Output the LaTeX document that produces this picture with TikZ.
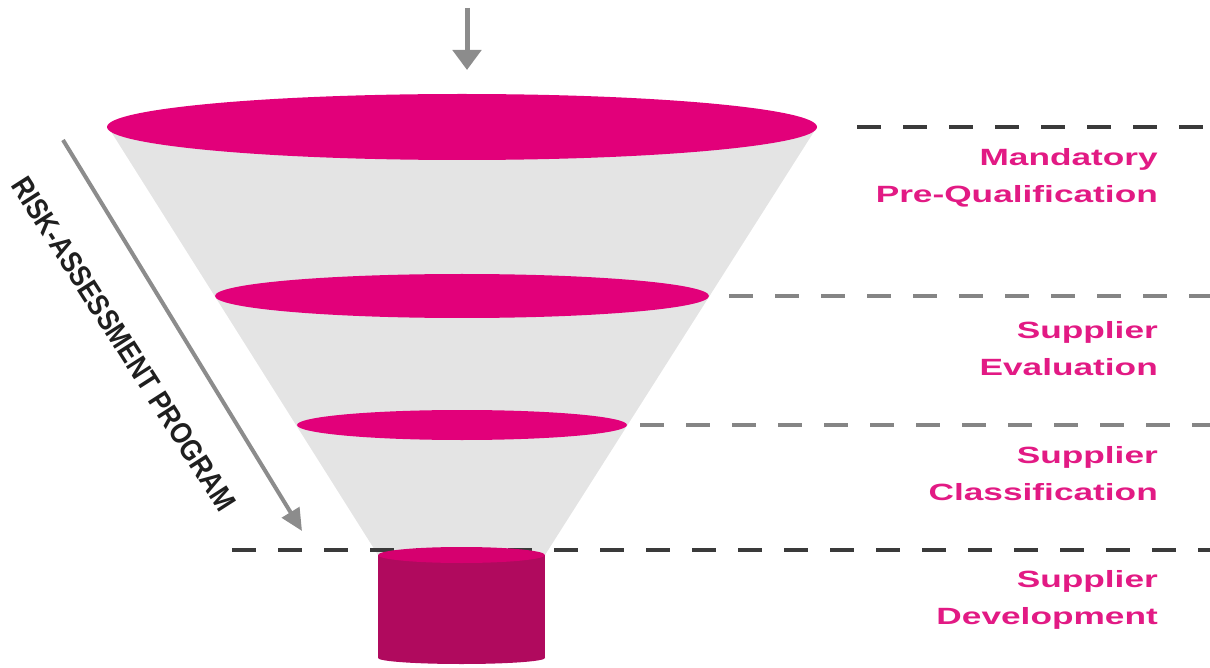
\documentclass[tikz,border=0pt]{standalone}
\usepackage{fontspec}
\setmainfont{Liberation Sans}
\newfontfamily\stagefont[FakeStretch=1.5]{Liberation Sans}
\newfontfamily\riskfont[FakeStretch=0.86]{Liberation Sans}
\usetikzlibrary{shapes.geometric,arrows.meta,positioning}
\definecolor{tmagenta}{HTML}{E2007A}
\definecolor{stagepink}{HTML}{E21A84}
\definecolor{cylbody}{HTML}{B00A5E}
\definecolor{cyltop}{HTML}{D6006F}
\definecolor{funnelgray}{HTML}{E4E4E4}
\definecolor{arrowgray}{HTML}{8C8C8C}
\definecolor{dashdark}{HTML}{3A3A3A}
\definecolor{dashlight}{HTML}{858585}

\begin{document}
\begin{tikzpicture}[
  x=1pt, y=-1pt,
  disc/.style={ellipse, fill=tmagenta, inner sep=0pt, outer sep=0pt},
  stage/.style={font=\stagefont\bfseries\fontsize{23.5}{37}\selectfont,
                text=stagepink, align=right, anchor=east, inner sep=0pt},
  level/.style={dash pattern=on 24pt off 22pt, line width=4pt},
  >={Triangle[width=28pt,length=20pt]}
]
\useasboundingbox (0,0) rectangle (1210,668);
\coordinate (edge) at (1210,0);

%% --- funnel ---
\fill[funnelgray] (110,130) -- (815,130) -- (545,555) -- (378,555) -- cycle;
\node[disc, minimum width=710pt, minimum height=66pt] (top) at (462,127) {};
\node[disc, minimum width=494pt, minimum height=44pt] (mid) at (462,296) {};
\node[disc, minimum width=330pt, minimum height=30pt] (low) at (462,425) {};

%% --- levels ---
\coordinate (l4) at (232,550);
\draw[level, dashdark] ([xshift=40pt]top.east) -- (top.east -| edge);
\draw[level, dashlight] ([xshift=20pt]mid.east) -- (mid.east -| edge);
\draw[level, dashlight] ([xshift=13pt]low.east) -- (low.east -| edge);
\draw[level, dashdark] (l4) -- (l4 -| edge);

%% --- cylinder ---
\fill[cylbody] (378,555) rectangle (545,658);
\fill[cylbody] (461.5,658) ellipse [x radius=83.5, y radius=6];
\node[ellipse, fill=cyltop, inner sep=0pt, minimum width=167pt,
      minimum height=16pt] (cyl) at (461.5,555) {};

%% --- stage labels ---
\node[stage] (pq) at (1158,178) {Mandatory\\Pre-Qualification};
\node[stage] (ev) at (1158,349) {Supplier\\Evaluation};
\node[stage] (cl) at (1158,474) {Supplier\\Classification};
\node[stage] (dv) at (1158,600) {Supplier\\Development};

%% --- arrows ---
\coordinate (feed) at (467,8);
\draw[->, arrowgray, line width=5pt, shorten >=24pt] (feed) -- (feed |- top.north);
\coordinate (pstart) at (63,140);
\coordinate (pend) at (302,531);
\draw[arrowgray, line width=4pt, -{Triangle[width=20pt,length=22pt]}] (pstart) -- (pend);
\node[font=\riskfont\bfseries\fontsize{30}{30}\selectfont, text=black!88,
      rotate=-57.4, inner sep=0pt] (risk) at (124,344) {RISK-ASSESSMENT PROGRAM};
\end{tikzpicture}
\end{document}
